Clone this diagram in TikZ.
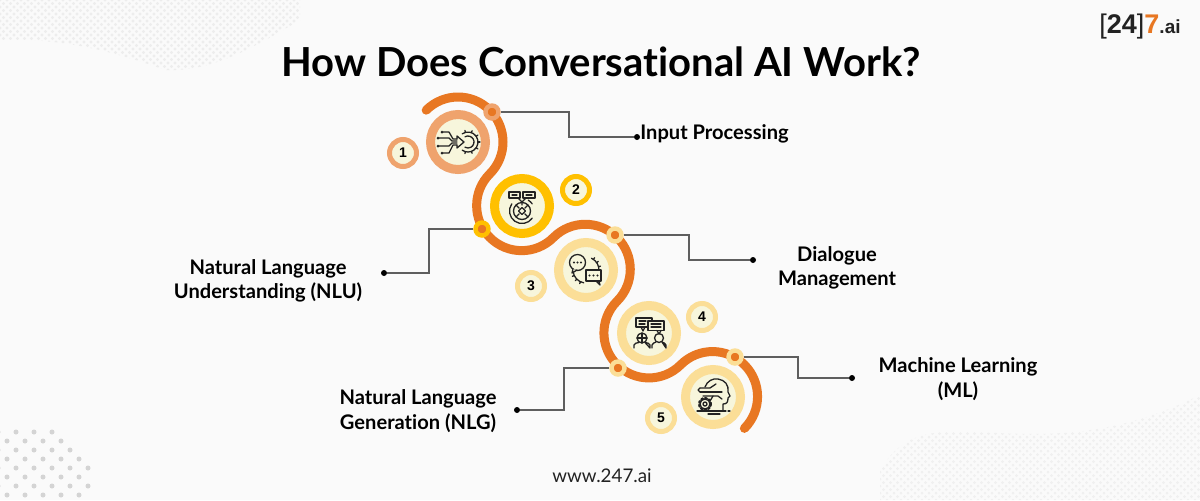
\documentclass[tikz,border=0pt]{standalone}
\usepackage{fontspec}
\setmainfont{Lato}[Ligatures=NoCommon]
\newfontfamily\logofont{Liberation Sans}
\definecolor{paper}{HTML}{FAFAFA}
\definecolor{trail}{HTML}{E87722}
\definecolor{peach}{HTML}{EFA36D}
\definecolor{amber}{HTML}{FFC000}
\definecolor{pale}{HTML}{FBDE97}
\definecolor{cream}{HTML}{F7F6DC}
\definecolor{wire}{HTML}{5E5E5E}
\definecolor{ink}{HTML}{222222}
\tikzset{
    bigring/.style={circle, draw=#1, fill=cream, line width=4.5pt, minimum size=27.5pt, inner sep=0pt},
    badge/.style={circle, draw=#1, fill=cream, line width=2.5pt, minimum size=13.5pt, inner sep=0pt, font=\logofont\bfseries\fontsize{7}{8}\selectfont, text=black},
    joint/.style={circle, draw=#1, fill=trail, line width=2.2pt, minimum size=6.5pt, inner sep=0pt},
    tip/.style={circle, fill=black, minimum size=3pt, inner sep=0pt},
    wireline/.style={draw=wire, line width=0.6pt},
    icon/.style={draw=ink, line width=0.65pt, line cap=round, line join=round},
    caption/.style={align=center, font=\bfseries\fontsize{10.05}{12.2}\selectfont, text=black}
}
\begin{document}
\begin{tikzpicture}[x=0.5pt, y=-0.5pt]
    \useasboundingbox (0,0) rectangle (1200,500);
    \fill[paper] (0,0) rectangle (1200,500);
    % faint halftone waves
    \begin{scope}
        \clip (0,40) .. controls (60,38) and (110,50) .. (165,70) .. controls (210,72) and (250,50) .. (300,20) -- (300,0) -- (0,0) -- cycle;
        \foreach \j in {0,...,20}
            \foreach \i in {0,...,43}
                \fill[black!7] ({\i*7+3.5*mod(\j,2)},{\j*3.5}) circle (1.6);
    \end{scope}
    \begin{scope}
        \clip (880,470) .. controls (895,445) and (915,432) .. (950,432) .. controls (1010,430) and (1090,450) .. (1200,395) -- (1200,500) -- (880,500) -- cycle;
        \foreach \j in {0,...,30}
            \foreach \i in {0,...,46}
                \fill[black!6] ({880+\i*7+3.5*mod(\j,2)},{395+\j*3.5}) circle (1.5);
    \end{scope}
    % dots, bottom left
    \foreach \ry/\rxa/\rxb/\rxc in {432/-2/16/52,441/7/25/61,450/-2/16/70,459/7/25/79,468/-2/16/88,477/7/25/79,486/-2/16/88,495/7/25/79}
        \foreach \rx in {\rxa,\rxb,...,\rxc}
            \fill[black!17] (\rx,\ry) circle (2.5);

    \node[font=\bfseries\fontsize{20}{24}\selectfont, text=black] (title) at (601,62) {How Does Conversational AI Work?};
    \node[font=\logofont\fontsize{13.5}{16}\selectfont, text=ink, inner sep=0pt] (logo) at (1140,27) {[\textbf{24}]\textcolor{trail}{\textbf{7}}{\fontsize{9.5}{12}\selectfont\textbf{.ai}}};
    \node[font=\fontsize{9.4}{11}\selectfont, text=ink] (web) at (602,476) {www.247.ai};

    % the five steps
    \node[bigring=peach] (c1) at (458,142) {};
    \node[bigring=amber] (c2) at (522,206) {};
    \node[bigring=pale] (c3) at (586,270) {};
    \node[bigring=pale] (c4) at (649,333) {};
    \node[bigring=pale] (c5) at (713,397) {};

    \draw[trail, line width=4.5pt, line cap=round] ([shift={(225:45)}]c1)
        arc[start angle=225, end angle=405, radius=45]
        arc[start angle=225, end angle=45, radius=45]
        arc[start angle=225, end angle=405, radius=45]
        arc[start angle=225, end angle=45, radius=45]
        arc[start angle=225, end angle=405, radius=45];

    \node[badge=peach] (b1) at (403,153) {1};
    \node[badge=amber] (b2) at (576,190) {2};
    \node[badge=pale] (b3) at (531,286) {3};
    \node[badge=pale] (b4) at (702,317) {4};
    \node[badge=pale] (b5) at (661,418) {5};

    \node[joint=peach] (j1) at (492,112) {};
    \node[joint=amber] (j2) at (482,229) {};
    \node[joint=pale] (j3) at (615,235) {};
    \node[joint=pale] (j4) at (618,368) {};
    \node[joint=pale] (j5) at (735,357) {};

    \node[tip] (t1) at (637,137) {};
    \node[tip] (t2) at (384,273) {};
    \node[tip] (t3) at (753,260) {};
    \node[tip] (t4) at (517,410) {};
    \node[tip] (t5) at (852,378) {};

    \draw[wireline] (j1) -- ++(77,0) |- (t1);
    \draw[wireline] (j2) -- ++(-53,0) |- (t2);
    \draw[wireline] (j3) -- ++(74,0) |- (t3);
    \draw[wireline] (j4) -- ++(-54,0) |- (t4);
    \draw[wireline] (j5) -- ++(63,0) |- (t5);

    \node[caption, anchor=west, inner sep=0pt] (l1) at (640,134) {Input Processing};
    \node[caption] (l2) at (268,281) {Natural Language\\Understanding (NLU)};
    \node[caption] (l3) at (837,268) {Dialogue\\Management};
    \node[caption] (l4) at (418,411) {Natural Language\\Generation (NLG)};
    \node[caption] (l5) at (958,379) {Machine Learning\\(ML)};

    % icons, drawn round each step
    \begin{scope}[shift={(c1)}, icon]
        \draw (-15,-10) -- (-9,-10) -- (-5,-3) -- (-1,-3);
        \draw (-19,-4) -- (-9,-4) -- (-6,-1) -- (-1,-1);
        \draw (-19,4) -- (-9,4) -- (-6,1) -- (-1,1);
        \draw (-15,11) -- (-9,11) -- (-5,3) -- (-1,3);
        \fill[ink] (-16,-10) circle (1.5) (-20,-4) circle (1.5) (-20,4) circle (1.5) (-16,11) circle (1.5);
        \draw (-1,-3) -- (-1,-6) -- (6,0) -- (-1,6) -- (-1,3);
        \draw ([shift={(-120:6)}]10,0) arc[start angle=-120, end angle=120, radius=6];
        \draw ([shift={(-125:10)}]10,0) arc[start angle=-125, end angle=125, radius=10];
        \foreach \a in {-105,-70,-35,0,35,70,105}
            \draw ([shift={(\a:10)}]10,0) -- ([shift={(\a:12)}]10,0);
    \end{scope}
    \begin{scope}[shift={(c2)}, icon]
        \draw (-13,-14) rectangle (-2,-8) (1,-14) rectangle (13,-8);
        \draw (-10,-11) -- (-5,-11) (4,-11) -- (10,-11);
        \draw (-4,-8) -- (0,-4) -- (4,-8) (0,-4) -- (0,-1);
        \draw (0,5) circle (8.5);
        \draw ([shift={(215:12.5)}]0,5) arc[start angle=215, end angle=35, radius=12.5];
        \draw ([shift={(-35:12.5)}]0,5) arc[start angle=-35, end angle=-60, radius=12.5];
        \draw (0,1.5) -- (3.5,5) -- (0,8.5) -- (-3.5,5) -- cycle;
        \foreach \a in {45,135,225,315}
            \draw ([shift={(\a:4)}]0,5) -- ([shift={(\a:8)}]0,5);
    \end{scope}
    \begin{scope}[shift={(c3)}, icon]
        \draw ([shift={(-65:13)}]0,0) arc[start angle=-65, end angle=10, radius=13];
        \draw ([shift={(100:13)}]0,0) arc[start angle=100, end angle=175, radius=13];
        \foreach \a in {-55,-35,-15,115,135,155}
            \draw (\a:13) -- (\a:15);
        \draw[fill=cream] (-8.5,-7.5) circle (8);
        \draw[fill=cream] (-13,-1) -- (-14,3) -- (-9,0);
        \fill[ink] (-12,-7.5) circle (1.1) (-8.5,-7.5) circle (1.1) (-5,-7.5) circle (1.1);
        \draw[fill=cream] (0,0) rectangle (15,11);
        \draw (10,11) -- (14,15) -- (13,11);
        \fill[ink] (3.5,5.5) circle (1.1) (7.5,5.5) circle (1.1) (11.5,5.5) circle (1.1);
    \end{scope}
    \begin{scope}[shift={(c4)}, icon]
        \draw (-13,-15) rectangle (3,-6);
        \draw (-8,-6) -- (-6,-2) -- (-4,-6);
        \draw (-10,-12) -- (-3,-12) (-10,-9) -- (-4,-9);
        \draw[fill=cream] (-1,-12) rectangle (15,-2.5);
        \draw (8,-2.5) -- (10,1) -- (12,-2.5);
        \draw (2,-9) -- (12,-9) (2,-6) -- (12,-6);
        \draw (-7,5) circle (5);
        \draw (-12,5) -- (-2,5) (-7,0) -- (-7,10);
        \draw (-15,15) -- (-15,12) .. controls (-15,10) and (-12,10) .. (-10,9.5) (-4,9.5) .. controls (-2,10) and (1,10) .. (1,12) -- (1,15) -- cycle;
        \draw (10,5) circle (4.5);
        \draw (3,15) -- (3,12) .. controls (3,10) and (6,10) .. (7,9) (13,9) .. controls (14,10) and (17,10) .. (17,12) -- (17,15) -- cycle;
    \end{scope}
    \begin{scope}[shift={(c5)}, icon]
        \draw (-8,-10) .. controls (-6,-16) and (0,-19) .. (5,-18) .. controls (12,-17) and (16,-12) .. (15,-5) -- (17,-1) -- (15,1) .. controls (15,5) and (14,7) .. (10,7) -- (10,13);
        \draw (-13,-9) -- (-3,-9) -- (3,-13);
        \draw (-13,-5) -- (9,-5);
        \draw (-10,-1) -- (5,-1) -- (9,2);
        \draw (-13,-9) -- (-15,-7) -- (-13,-5);
        \draw (-3,4) -- (0,-1);
        \draw (-8,7) circle (2) (-8,7) circle (5);
        \draw[densely dotted, line width=1pt] (-8,7) circle (6);
        \draw (-16,14) -- (13,14) (15,14) -- (17,14) (-5,17) -- (7,17);
    \end{scope}
\end{tikzpicture}
\end{document}
